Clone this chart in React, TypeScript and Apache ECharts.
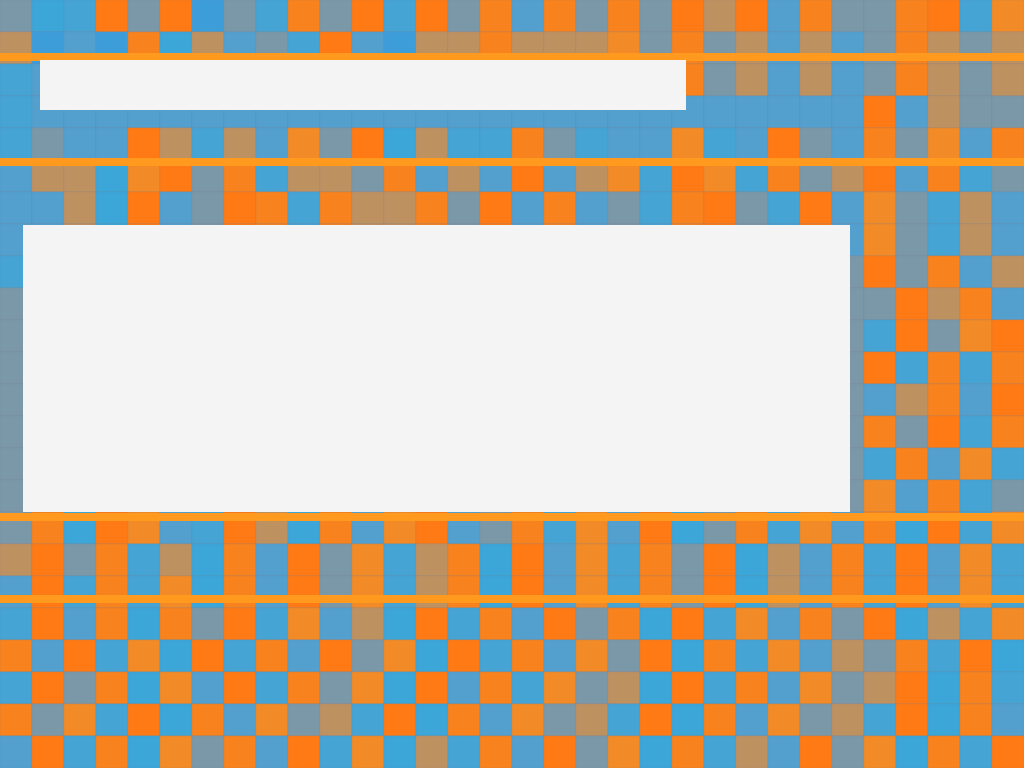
import * as echarts from 'echarts';
import { useEffect, useRef } from 'react';

// 0 = blue ... 9 = orange, one string per row (32 columns x 24 rows)
const rows = [
    '52395915385939584858596948558937',
    '61418264539416686667585646458656',
    '34418264539416686667585646458656',
    '34444444444444444444444444494655',
    '35449636475926338534473495485748',
    '46627958366584649467397385694835',
    '44629459838668594845389539475364',
    '44629459838668594845389539475364',
    '36568694376695768859566738595846',
    '55555555555555555555555555559684',
    '55555555555555555555555555539579',
    '55555555555555555555555555593838',
    '55555555555555555555555555546849',
    '55555555555555555555555555585938',
    '55555555555555555555555555538473',
    '55555555555555555555555555574835',
    '58297439628479458374925837482937',
    '69583628495736829473859264839473',
    '49383728495736829473859264839473',
    '39482859374629384958293748592637',
    '84937293849572938475928374658392',
    '39582749385729483756293847569283',
    '85739284756392847563928475639284',
    '49382758493726384957283649572839',
];

const gridLines = [57, 162, 517, 599];

const App = () => {
    const chartRef = useRef<HTMLDivElement>(null);

    useEffect(() => {
        if (!chartRef.current) return;
        const chart = echarts.init(chartRef.current, undefined, { renderer: 'svg' });
        const data: number[][] = [];
        rows.forEach((r, y) => r.split('').forEach((c, x) => data.push([x, y, Number(c)])));

        chart.setOption({
            animation: false,
            grid: { left: 0, right: 0, top: 0, bottom: 0 },
            xAxis: { type: 'category', data: rows[0].split('').map((_, i) => i), show: false },
            yAxis: { type: 'category', data: rows.map((_, i) => i), inverse: true, show: false },
            visualMap: {
                show: false,
                min: 0,
                max: 9,
                inRange: { color: ['#3f95dc', '#3aa8d6', '#5a9ccc', '#f08c2a', '#ff7a14'] },
            },
            series: [
                {
                    type: 'heatmap',
                    z: 1,
                    data,
                    itemStyle: { borderColor: 'rgba(120,130,150,0.25)', borderWidth: 1 },
                },
            ],
            graphic: {
                elements: [
                    ...gridLines.map((y) => ({
                        type: 'rect',
                        z: 100,
                        shape: { x: 0, y: y - 4, width: 1024, height: 8 },
                        style: { fill: '#ff9a1e' },
                    })),
                    { type: 'rect', z: 101, shape: { x: 40, y: 60, width: 646, height: 50 }, style: { fill: '#f4f4f4' } },
                    { type: 'rect', z: 101, shape: { x: 23, y: 225, width: 827, height: 287 }, style: { fill: '#f4f4f4' } },
                ],
            },
        });

        return () => chart.dispose();
    }, []);

    return <div ref={chartRef} style={{ position: 'fixed', left: 0, top: 0, width: 1024, height: 768 }} />;
};

export default App;
